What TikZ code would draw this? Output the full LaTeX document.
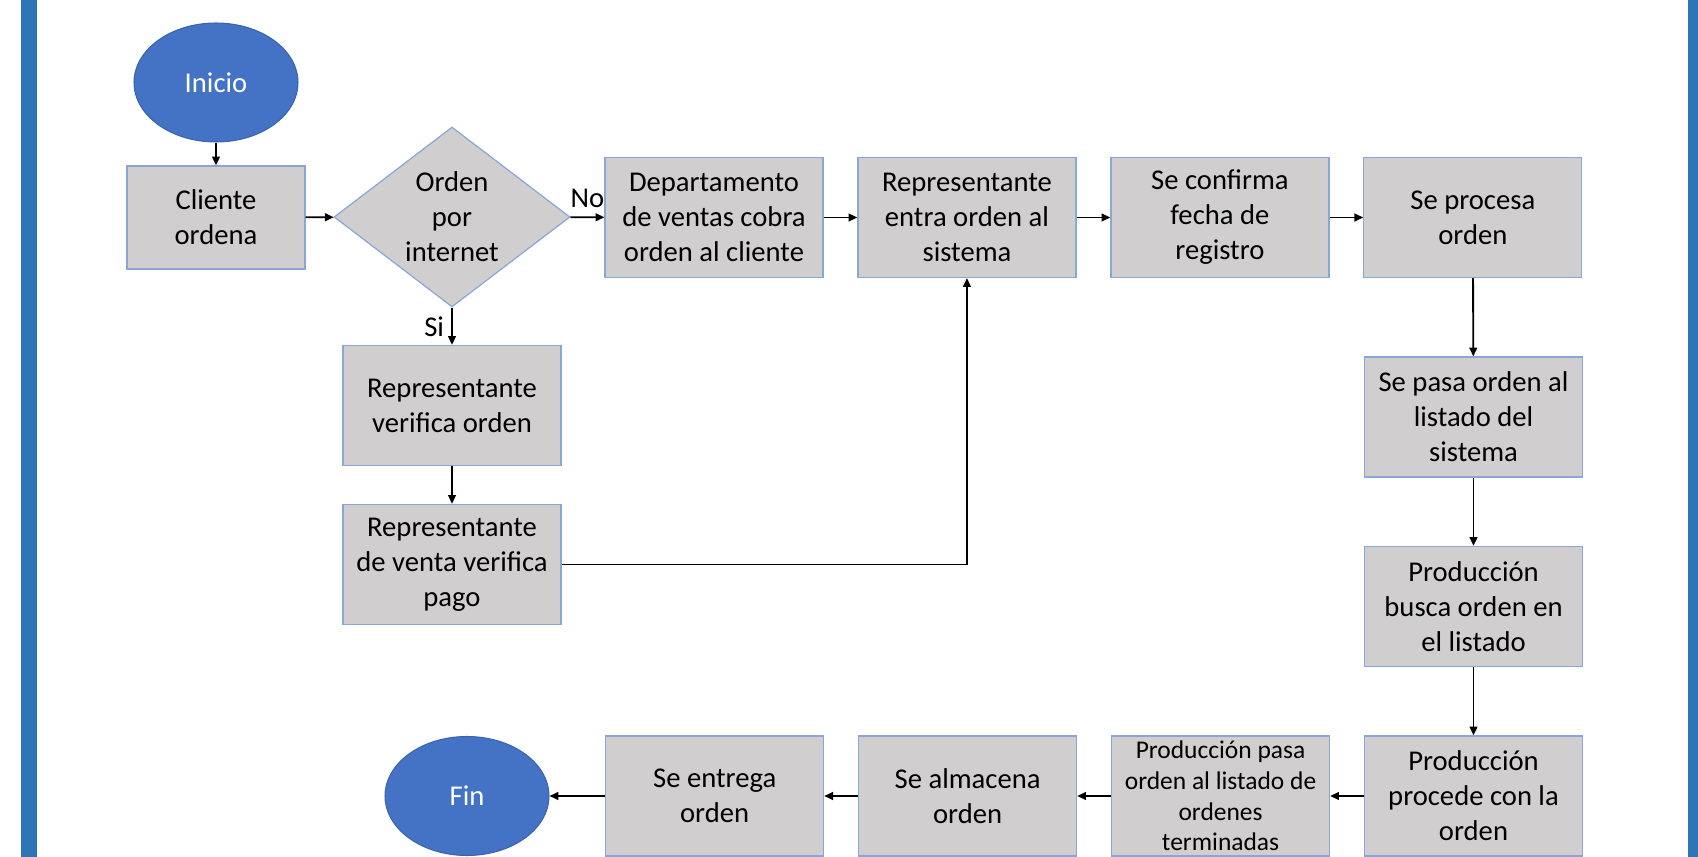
\documentclass[tikz,border=0pt]{standalone}
\usepackage{fontspec}
\setmainfont{Carlito}
\usetikzlibrary{shapes.geometric,arrows.meta}
\definecolor{boxgray}{HTML}{D0CECE}
\definecolor{boxline}{HTML}{8AA6D8}
\definecolor{termblue}{HTML}{4472C4}
\definecolor{termline}{HTML}{3A64B0}
\definecolor{barblue}{HTML}{2E75B6}
\def\colsep{5.06cm}

\begin{document}
\begin{tikzpicture}[x=0.02cm,y=-0.02cm,->,>={Triangle[length=5pt,width=4.4pt]},line width=1.05pt,node distance=\colsep,font=\fontsize{16.3}{19.9}\selectfont]
    \tikzstyle{block}=[rectangle,draw=boxline,line width=0.7pt,fill=boxgray,minimum width=4.36cm,minimum height=2.4cm,inner sep=1pt,align=center]
    \tikzstyle{terminal}=[ellipse,draw=termline,line width=0.6pt,fill=termblue,text=white,minimum width=3.28cm,minimum height=2.38cm]
    \tikzstyle{decision}=[diamond,draw=boxline,line width=0.7pt,fill=boxgray,aspect=1.31,inner sep=0pt,minimum width=4.72cm,minimum height=3.6cm,align=center]
    \tikzstyle{answer}=[font=\fontsize{16.3}{19.9}\selectfont,inner sep=4pt]

    % Frame of the page
    \useasboundingbox (0,0) rectangle (1698,857);
    \fill[barblue] (21,0) rectangle (37,857);
    \fill[barblue] (1688,0) rectangle (1698,857);

    % Start and first question
    \node[terminal] (inicio) at (216,82.5) {Inicio};
    \node[block,minimum width=3.56cm,minimum height=2.06cm] (cliente) at (216,217.5) {Cliente\\ordena};
    \node[decision] (internet) at (452,217) {Orden\\por\\internet};

    % Top row
    \node[block] (cobra) at (714,217.5) {Departamento\\de ventas cobra\\orden al cliente};
    \node[block,right of=cobra] (entra) {Representante\\entra orden al\\sistema};
    \node[block,right of=entra] (confirma) {Se confirma\\fecha de\\registro};
    \node[block,right of=confirma] (procesa) {Se procesa\\orden};

    % Internet branch
    \node[block] (verifica) at (452,405.5) {Representante\\verifica orden};
    \node[block,below of=verifica,node distance=3.18cm] (pago) {Representante\\de venta verifica\\pago};

    % Right column
    \node[block] (listado) at (1473.5,417) {Se pasa orden al\\listado del\\sistema};
    \node[block] (busca) at (1473.5,606.5) {Producción\\busca orden en\\el listado};
    \node[block] (procede) at (1473.5,796) {Producción\\procede con la\\orden};

    % Bottom row
    \node[block,left of=procede,font=\fontsize{14.5}{17.4}\selectfont,inner sep=0pt] (terminadas) {Producción pasa\\orden al listado de\\ordenes\\terminadas};
    \node[block,left of=terminadas] (almacena) {Se almacena\\orden};
    \node[block,left of=almacena] (entrega) {Se entrega\\orden};
    \node[terminal] (fin) at (467,796) {Fin};

    % Connect the steps
    \foreach \source/\dest in {inicio/cliente,cliente/internet,cobra/entra,entra/confirma,confirma/procesa,procesa/listado,listado/busca,busca/procede,procede/terminadas,terminadas/almacena,almacena/entrega,entrega/fin,verifica/pago}
        \draw (\source) -- (\dest);

    % Answers of the question
    \draw (internet) -- node[answer,above,yshift=1pt] {No} (cobra);
    \draw (internet) -- node[answer,left] {Si} (verifica);
    \draw (pago.east) -| (entra.south);
\end{tikzpicture}
\end{document}
